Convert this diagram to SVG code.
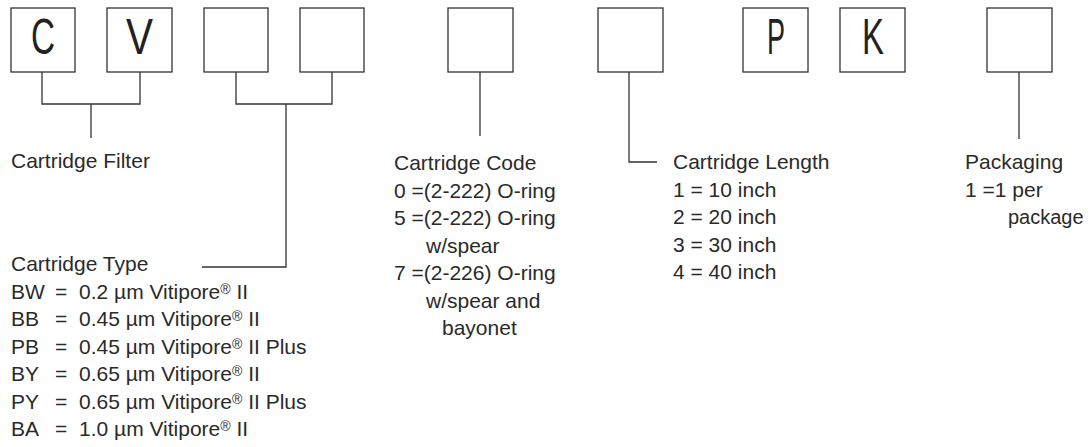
<svg xmlns="http://www.w3.org/2000/svg" width="1088" height="447" viewBox="0 0 1088 447">
<style>
.box{fill:#fff;stroke:#333;stroke-width:1.3}
.big{font-family:"Liberation Sans",Arial,sans-serif;font-size:50px;fill:#222;text-anchor:middle}
.t{font-family:"Liberation Sans",Arial,sans-serif;font-size:21px;fill:#2a2a2a}
.reg{font-size:14px}
.con{fill:none;stroke:#333;stroke-width:1.3}
</style>
<rect width="1088" height="447" fill="#fff"/>
<g id="box-c"><rect class="box" x="11" y="8" width="64" height="64"/><text class="big" x="43" y="54" textLength="24" lengthAdjust="spacingAndGlyphs">C</text></g>
<g id="box-v"><rect class="box" x="107" y="8" width="65" height="64"/><text class="big" x="139.5" y="54" textLength="27" lengthAdjust="spacingAndGlyphs">V</text></g>
<g id="box-3"><rect class="box" x="204" y="8" width="64" height="64"/></g>
<g id="box-4"><rect class="box" x="300" y="8" width="64" height="64"/></g>
<g id="box-5"><rect class="box" x="448" y="8" width="65" height="64"/></g>
<g id="box-6"><rect class="box" x="598" y="8" width="65" height="64"/></g>
<g id="box-p"><rect class="box" x="743" y="8" width="65" height="64"/><text class="big" x="776" y="54" textLength="18" lengthAdjust="spacingAndGlyphs">P</text></g>
<g id="box-k"><rect class="box" x="840" y="8" width="65" height="64"/><text class="big" x="873" y="54" textLength="22" lengthAdjust="spacingAndGlyphs">K</text></g>
<g id="box-9"><rect class="box" x="987" y="8" width="65" height="64"/></g>
<g id="connectors">
<path class="con" d="M42,72 V104 H140 V72 M91,104 V138"/>
<path class="con" d="M236,72 V104 H332 V72 M286,104 V267 H202"/>
<path class="con" d="M480,72 V136"/>
<path class="con" d="M629,72 V162 H657"/>
<path class="con" d="M1019,72 V139"/>
</g>
<g id="label-filter"><text class="t" x="11" y="168">Cartridge Filter</text></g>
<g id="label-type">
<text class="t" x="11" y="271">Cartridge Type</text>
<text class="t" x="11" y="298.5">BW</text><text class="t" x="55" y="298.5">=</text><text class="t" x="79" y="298.5">0.2 µm Vitipore<tspan class="reg" dy="-5">®</tspan><tspan dy="5"> II</tspan></text>
<text class="t" x="11" y="326">BB</text><text class="t" x="55" y="326">=</text><text class="t" x="79" y="326">0.45 µm Vitipore<tspan class="reg" dy="-5">®</tspan><tspan dy="5"> II</tspan></text>
<text class="t" x="11" y="353.5">PB</text><text class="t" x="55" y="353.5">=</text><text class="t" x="79" y="353.5">0.45 µm Vitipore<tspan class="reg" dy="-5">®</tspan><tspan dy="5"> II Plus</tspan></text>
<text class="t" x="11" y="381">BY</text><text class="t" x="55" y="381">=</text><text class="t" x="79" y="381">0.65 µm Vitipore<tspan class="reg" dy="-5">®</tspan><tspan dy="5"> II</tspan></text>
<text class="t" x="11" y="408.5">PY</text><text class="t" x="55" y="408.5">=</text><text class="t" x="79" y="408.5">0.65 µm Vitipore<tspan class="reg" dy="-5">®</tspan><tspan dy="5"> II Plus</tspan></text>
<text class="t" x="11" y="436">BA</text><text class="t" x="55" y="436">=</text><text class="t" x="79" y="436">1.0 µm Vitipore<tspan class="reg" dy="-5">®</tspan><tspan dy="5"> II</tspan></text>
</g>
<g id="label-code">
<text class="t" x="394" y="170">Cartridge Code</text>
<text class="t" x="394" y="197.5">0 =(2-222) O-ring</text>
<text class="t" x="394" y="225">5 =(2-222) O-ring</text>
<text class="t" x="426" y="252.5">w/spear</text>
<text class="t" x="394" y="280">7 =(2-226) O-ring</text>
<text class="t" x="426" y="307.5">w/spear and</text>
<text class="t" x="442" y="335">bayonet</text>
</g>
<g id="label-length">
<text class="t" x="673" y="169">Cartridge Length</text>
<text class="t" x="673" y="196.5">1 = 10 inch</text>
<text class="t" x="673" y="224">2 = 20 inch</text>
<text class="t" x="673" y="251.5">3 = 30 inch</text>
<text class="t" x="673" y="279">4 = 40 inch</text>
</g>
<g id="label-packaging">
<text class="t" x="965" y="169">Packaging</text>
<text class="t" x="965" y="196.5">1 =1 per</text>
<text class="t" x="1008" y="224" style="font-size:20px">package</text>
</g>
</svg>
